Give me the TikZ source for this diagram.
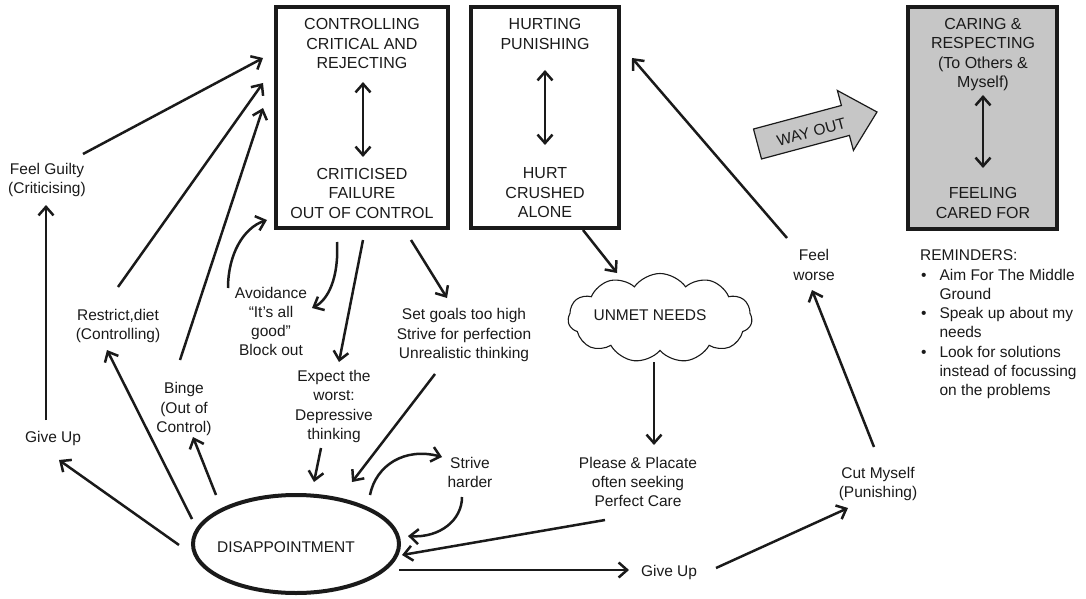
\documentclass[tikz,border=0pt]{standalone}
\usepackage{fontspec}
\setmainfont{Liberation Sans}
\usetikzlibrary{arrows.meta,shapes.geometric,shapes.symbols}
\definecolor{ink}{HTML}{1A1A1A}
\definecolor{boxgrey}{HTML}{C6C6C6}
\begin{document}
\begin{tikzpicture}[x=1pt,y=-1pt,
  txt/.style={font=\fontsize{15.5}{19.3}\selectfont, align=center, inner sep=0pt, text=ink},
  boxtxt/.style={font=\fontsize{16}{19.5}\selectfont, align=center, inner sep=0pt, text=ink},
  frame/.style={draw=ink, line width=3.3pt, inner sep=0pt},
  conn/.style={draw=ink, line width=2.5pt, -{Straight Barb[length=8.5pt,width=15pt]}},
  dbl/.style={draw=ink, line width=2.5pt, {Straight Barb[length=8.5pt,width=15pt]}-{Straight Barb[length=8.5pt,width=15pt]}}
]
\useasboundingbox (0,0) rectangle (1086,599);

% ---- boxes
\node[frame, minimum width=172pt, minimum height=221pt] (box1) at (362,117.5) {};
\node[boxtxt] (b1top) at (362,43.5) {CONTROLLING\\CRITICAL AND\\REJECTING};
\node[boxtxt] (b1bot) at (362,193) {CRITICISED\\FAILURE\\OUT OF CONTROL};
\coordinate (b1a) at (363,82); \coordinate (b1b) at (363,157);
\draw[dbl] (b1a) -- (b1b);

\node[frame, minimum width=148pt, minimum height=221pt] (box2) at (545,117.5) {};
\node[boxtxt] (b2top) at (545,34) {HURTING\\PUNISHING};
\node[boxtxt] (b2bot) at (545,193) {HURT\\CRUSHED\\ALONE};
\coordinate (b2a) at (545,70); \coordinate (b2b) at (545,145);
\draw[dbl] (b2a) -- (b2b);

\node[frame, fill=boxgrey, line width=3.6pt, minimum width=149pt, minimum height=222pt] (box3) at (982.5,118) {};
\node[boxtxt] (b3top) at (983,54.5) {CARING \&\\RESPECTING\\(To Others \&\\Myself)};
\node[boxtxt] (b3bot) at (983,203) {FEELING\\CARED FOR};
\coordinate (b3a) at (983,95); \coordinate (b3b) at (983,168);
\draw[dbl] (b3a) -- (b3b);

% ---- way out arrow
\begin{scope}[shift={(757.5,144)}, rotate=15]
\draw[draw=ink, fill=boxgrey, line width=1.2pt] (0,-15.5) -- (91,-15.5) -- (91,-31) -- (123.7,0) -- (91,31) -- (91,15.5) -- (0,15.5) -- cycle;
\node[txt, rotate=15] (wayout) at (55,2.5) {WAY OUT};
\end{scope}

% ---- reminders
\node[anchor=north west, inner sep=0pt, font=\fontsize{15.5}{19.3}\selectfont, text=ink] (rem) at (920,247) {%
\begin{tabular}{@{}p{19.3pt}@{}l@{}}
\multicolumn{2}{@{}l@{}}{REMINDERS:}\\
\hspace{1pt}\textbullet & Aim For The Middle\\
 & Ground\\
\hspace{1pt}\textbullet & Speak up about my\\
 & needs\\
\hspace{1pt}\textbullet & Look for solutions\\
 & instead of focussing\\
 & on the problems
\end{tabular}};

% ---- cloud and ellipse
\node[cloud, draw=ink, line width=1.1pt, cloud puffs=11, cloud puff arc=110, aspect=2.1, minimum width=184pt, minimum height=89pt, inner sep=0pt] (cloud) at (660,318) {};
\node[txt] (un) at (650,315) {UNMET NEEDS};

\node[ellipse, draw=ink, line width=4pt, minimum width=206pt, minimum height=98pt, inner sep=0pt] (dis) at (296,544) {};
\node[txt] (dt) at (286,547) {DISAPPOINTMENT};

% ---- text nodes
\node[txt] (fg) at (47,180) {Feel Guilty\\(Criticising)};
\node[txt] (gu1) at (53,438) {Give Up};
\node[txt] (rd) at (118,326) {Restrict,diet\\(Controlling)};
\node[txt] (bi) at (184,409) {Binge\\(Out of\\Control)};
\node[txt] (av) at (271,321.5) {Avoidance\\“It’s all\\good”\\Block out};
\node[txt] (ex) at (334,406.5) {Expect the\\worst:\\Depressive\\thinking};
\node[txt] (sg) at (464,335) {Set goals too high\\Strive for perfection\\Unrealistic thinking};
\node[txt] (sh) at (470,472.5) {Strive\\harder};
\node[txt] (pl) at (638,482) {Please \& Placate\\often seeking\\Perfect Care};
\node[txt] (gu2) at (669,572) {Give Up};
\node[txt] (cm) at (878,484) {Cut Myself\\(Punishing)};
\node[txt] (fw) at (814,265) {Feel\\worse};

% ---- connector end points
\coordinate (gu1up) at (46,420);   \coordinate (fgdn) at (46,205);
\coordinate (fgout) at (83,154);   \coordinate (b1in1) at (263,58);
\coordinate (rdout) at (118,287);  \coordinate (b1in2) at (263,83);
\coordinate (biout) at (180,360);  \coordinate (b1in3) at (263,108);
\coordinate (avout) at (228,288);  \coordinate (b1in4) at (267,220);
\coordinate (b1out1) at (337,242); \coordinate (avin) at (312,308);
\coordinate (b1out2) at (363,240); \coordinate (exin) at (339,362);
\coordinate (b1out3) at (411,240); \coordinate (sgin) at (447,298);
\coordinate (exout) at (321,448);  \coordinate (disin1) at (314,482);
\coordinate (sgout) at (435,374);  \coordinate (disin2) at (352,482);
\coordinate (disout1) at (370,495); \coordinate (shin) at (442,457);
\coordinate (shout) at (462,497);  \coordinate (disin3) at (408,536);
\coordinate (plout) at (605,520);  \coordinate (disin4) at (402,555);
\coordinate (disout2) at (399,570); \coordinate (gu2in) at (629,570);
\coordinate (gu2out) at (716,568); \coordinate (cmin) at (848,508);
\coordinate (cmout) at (874,447);  \coordinate (fwin) at (812,290);
\coordinate (fwout) at (787,238);  \coordinate (b2in) at (632,58);
\coordinate (b2out) at (583,230);  \coordinate (clin) at (617,273);
\coordinate (clout) at (654,362);  \coordinate (plin) at (654,445);
\coordinate (disout3) at (179,545); \coordinate (gu1in) at (59,460);
\coordinate (disout4) at (192,519); \coordinate (rdin) at (107,350);
\coordinate (disout5) at (216,495); \coordinate (biin) at (193,437);

% ---- connectors
\draw[conn] (gu1up) -- (fgdn);
\draw[conn] (fgout) -- (b1in1);
\draw[conn] (rdout) -- (b1in2);
\draw[conn] (biout) -- (b1in3);
\draw[conn] (avout) .. controls (228,255) and (243,228) .. (b1in4);
\draw[conn] (b1out1) .. controls (339,278) and (328,300) .. (avin);
\draw[conn] (b1out2) -- (exin);
\draw[conn] (b1out3) -- (sgin);
\draw[conn] (exout) -- (disin1);
\draw[conn] (sgout) -- (disin2);
\draw[conn] (disout1) .. controls (376,465) and (405,447) .. (shin);
\draw[conn] (shout) .. controls (462,520) and (440,538) .. (disin3);
\draw[conn] (plout) -- (disin4);
\draw[conn] (disout2) -- (gu2in);
\draw[conn] (gu2out) -- (cmin);
\draw[conn] (cmout) -- (fwin);
\draw[conn] (fwout) -- (b2in);
\draw[conn] (b2out) -- (clin);
\draw[conn] (clout) -- (plin);
\draw[conn] (disout3) -- (gu1in);
\draw[conn] (disout4) -- (rdin);
\draw[conn] (disout5) -- (biin);
\end{tikzpicture}
\end{document}
